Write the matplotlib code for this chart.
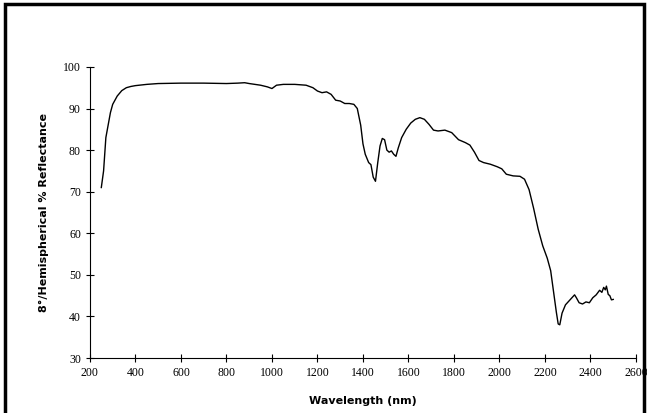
import numpy as np
import matplotlib.pyplot as plt
from matplotlib.patches import Rectangle

wavelength = [250, 260, 270, 280, 290, 300, 320, 340, 360, 380, 400, 450, 500, 600, 700, 800, 850, 880,
              900, 950, 980, 1000, 1020, 1050, 1100, 1150, 1180, 1200, 1220, 1240, 1260, 1280, 1300,
              1320, 1340, 1360, 1375, 1390, 1400, 1410, 1425, 1435, 1445, 1455, 1465, 1475, 1485, 1495,
              1505, 1515, 1525, 1535, 1545, 1555, 1570, 1590, 1610, 1630, 1650, 1670, 1690, 1710, 1730,
              1760, 1790, 1820, 1850, 1870, 1890, 1910, 1930, 1960, 1990, 2010, 2030, 2060, 2090, 2110,
              2130, 2150, 2170, 2190, 2210, 2225, 2240, 2250, 2258, 2265, 2275, 2290, 2310, 2330, 2338,
              2350, 2365, 2380, 2395, 2410, 2425, 2440, 2450, 2458, 2465, 2470, 2478, 2485, 2492, 2500]
reflectance = [71, 75, 83, 86, 89, 91, 93, 94.3, 95, 95.3, 95.5, 95.8, 96, 96.1, 96.1, 96, 96.1, 96.2,
               96, 95.6, 95.2, 94.8, 95.6, 95.8, 95.8, 95.6, 95, 94.2, 93.8, 94, 93.4, 92, 91.8,
               91.2, 91.2, 91, 90, 86, 81.5, 79, 77, 76.5, 73.5, 72.5, 77, 81, 82.8, 82.5,
               80, 79.5, 79.8, 79, 78.5, 80.5, 83, 85, 86.5, 87.4, 87.8, 87.4, 86.2, 84.8, 84.6,
               84.8, 84.2, 82.5, 81.8, 81.2, 79.5, 77.5, 77, 76.6, 76, 75.5, 74.2, 73.8, 73.7, 73,
               70.5, 66, 61, 57, 54, 51, 45, 41, 38.2, 38, 40.8, 42.8, 44, 45.2, 44.5,
               43.3, 43, 43.5, 43.3, 44.5, 45.2, 46.3, 45.8, 47, 46.4, 47.3, 45.3, 45, 44, 44.1]

fig = plt.figure(figsize=(6.47, 4.13), dpi=100)
fig.patches.append(Rectangle((0.008, -0.02), 0.987, 1.01, transform=fig.transFigure,
                             fill=False, edgecolor='black', linewidth=2.5))
ax = fig.add_axes([0.139, 0.133, 0.844, 0.705])
ax.plot(wavelength, reflectance, color='black', linewidth=1.0)
ax.set_xlim(200, 2600)
ax.set_ylim(30, 100)
ax.set_xticks(range(200, 2601, 200))
ax.set_yticks(range(30, 101, 10))
for s in ['top', 'right']:
    ax.spines[s].set_visible(False)
ax.tick_params(direction='inout', length=6, width=0.8, labelsize=8.5)
for lab in ax.get_xticklabels() + ax.get_yticklabels():
    lab.set_family('Liberation Serif')
ax.set_xlabel('Wavelength (nm)', fontsize=8, fontweight='bold', labelpad=12)
ax.set_ylabel('8°/Hemispherical % Reflectance', fontsize=8, fontweight='bold', labelpad=10)
fig.savefig('out.png', dpi=100)
